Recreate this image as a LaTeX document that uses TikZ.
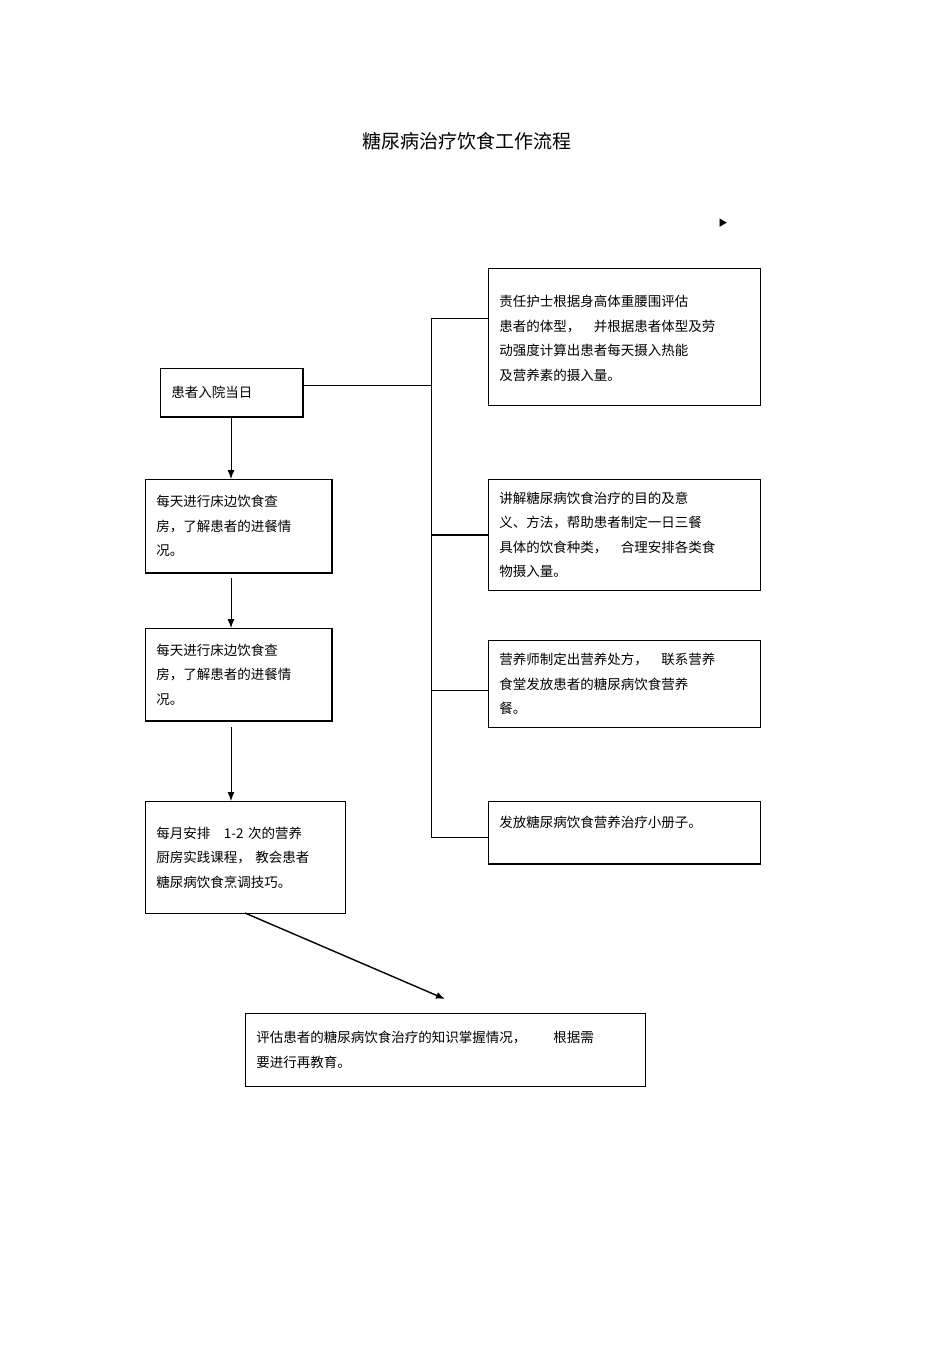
\documentclass[tikz,border=0pt]{standalone}
\usepackage{fontspec}
\setmainfont{Noto Sans CJK SC}
\usetikzlibrary{arrows.meta}
\begin{document}
\begin{tikzpicture}[x=1pt,y=-1pt,
  box/.style={draw,line width=0.8pt,anchor=north west,align=left,inner xsep=11pt,inner ysep=8pt,font=\fontsize{13.5}{24.5}\selectfont},
  arr/.style={line width=1pt,-{Latex[length=9pt,width=7pt]}},
  ln/.style={line width=0.8pt}]
\useasboundingbox (0,0) rectangle (950,1345);
\node[font=\fontsize{19}{22}\selectfont] (title) at (467,141) {糖尿病治疗饮食工作流程};
\node[font=\fontsize{9}{10}\selectfont] (tri) at (723,223) {▶};
\node[box,minimum width=142pt,minimum height=48pt,text width=120pt] (A) at (160,368) {患者入院当日};
\draw[line width=1.6pt] (A.north east)--(A.south east)--(A.south west);
\node[box,minimum width=272pt,minimum height=137pt,text width=250pt,text height=14pt] (r1) at (488,268) {责任护士根据身高体重腰围评估\\患者的体型，\quad 并根据患者体型及劳\\动强度计算出患者每天摄入热能\\及营养素的摄入量。};
\node[box,minimum width=272pt,minimum height=111pt,text width=250pt] (r2) at (488,479) {讲解糖尿病饮食治疗的目的及意\\义、方法，帮助患者制定一日三餐\\具体的饮食种类，\quad 合理安排各类食\\物摄入量。};
\node[box,minimum width=272pt,minimum height=87pt,text width=250pt] (r3) at (488,640) {营养师制定出营养处方，\quad 联系营养\\食堂发放患者的糖尿病饮食营养\\餐。};
\node[box,minimum width=272pt,minimum height=62pt,text width=250pt,text depth=22pt] (r4) at (488,801) {发放糖尿病饮食营养治疗小册子。};
\draw[line width=1.6pt] (r4.south west)--(r4.south east);
\node[box,minimum width=186pt,minimum height=93pt,text width=164pt] (B) at (145,479) {每天进行床边饮食查\\房，了解患者的进餐情\\况。};
\node[box,minimum width=186pt,minimum height=92pt,text width=164pt] (C) at (145,628) {每天进行床边饮食查\\房，了解患者的进餐情\\况。};
\draw[line width=1.4pt] (B.north east)--(B.south east)--(B.south west);
\draw[line width=1.4pt] (C.north east)--(C.south east)--(C.south west);
\node[box,minimum width=200pt,minimum height=112pt,text width=178pt] (D) at (145,801) {每月安排\quad 1-2\ 次的营养\\厨房实践课程，\ 教会患者\\糖尿病饮食烹调技巧。};
\node[box,minimum width=400pt,minimum height=73pt,text width=378pt] (E) at (245,1013) {评估患者的糖尿病饮食治疗的知识掌握情况，\qquad 根据需\\要进行再教育。};
\coordinate (top) at (431,318);
\coordinate (bot) at (431,837);
\draw[ln] (A.east|-0,385) -- (431,385);
\draw[ln] (top)--(bot);
\draw[ln] (top)--(r1.west|-top);
\draw[line width=1.4pt] (431,535)--(r2.west|-0,535);
\draw[ln] (431,690)--(r3.west|-0,690);
\draw[ln] (bot)--(r4.west|-bot);
\draw[arr] (231,416)--(231,479);
\draw[arr] (231,578)--(231,628);
\draw[arr] (231,727)--(231,801);
\coordinate (ee) at (445,999);
\draw[arr,line width=1.4pt] (245,913)--(ee);
\end{tikzpicture}
\end{document}
